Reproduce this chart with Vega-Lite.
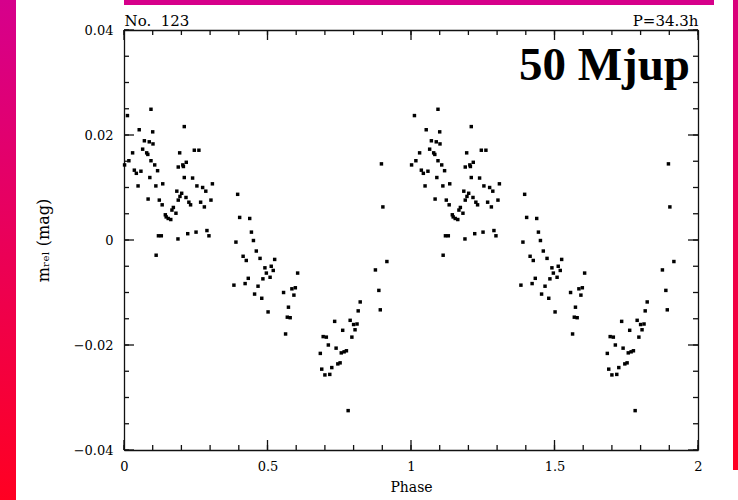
{
  "$schema": "https://vega.github.io/schema/vega-lite/v6.json",
  "background": "white",
  "padding": 0,
  "spacing": 19,
  "config": {
    "view": {"stroke": null},
    "axis": {"grid": false, "domainColor": "#111", "labelColor": "black", "titleColor": "black", "labelFont": "DejaVu Serif", "titleFont": "DejaVu Serif", "labelFontSize": 13, "titleFontWeight": "normal", "labelFlush": false, "domainWidth": 1.3}
  },
  "datasets": {
    "xmin": [{"v":0},{"v":0.1},{"v":0.2},{"v":0.3},{"v":0.4},{"v":0.5},{"v":0.6},{"v":0.7},{"v":0.8},{"v":0.9},{"v":1},{"v":1.1},{"v":1.2},{"v":1.3},{"v":1.4},{"v":1.5},{"v":1.6},{"v":1.7},{"v":1.8},{"v":1.9},{"v":2}],
    "xmaj": [{"v":0},{"v":0.5},{"v":1},{"v":1.5},{"v":2}],
    "ymin": [{"v":-0.04},{"v":-0.035},{"v":-0.03},{"v":-0.025},{"v":-0.02},{"v":-0.015},{"v":-0.01},{"v":-0.005},{"v":0},{"v":0.005},{"v":0.01},{"v":0.015},{"v":0.02},{"v":0.025},{"v":0.03},{"v":0.035},{"v":0.04}],
    "ymaj": [{"v":-0.04},{"v":-0.02},{"v":0},{"v":0.02},{"v":0.04}],
    "pts": [
      {"p":0.012,"m":0.0237},{"p":0.094,"m":0.0249},{"p":0.053,"m":0.021},{"p":0.100,"m":0.0206},{"p":0.210,"m":0.0216},{"p":0.071,"m":0.0189},{"p":0.088,"m":0.0187},{"p":0.101,"m":0.0183},{"p":0.065,"m":0.0173},{"p":0.079,"m":0.0166},{"p":0.083,"m":0.0163},{"p":0.030,"m":0.0166},{"p":0.194,"m":0.0166},{"p":0.245,"m":0.0171},{"p":0.261,"m":0.0171},{"p":0.017,"m":0.0151},{"p":0.002,"m":0.0143},{"p":0.094,"m":0.0151},{"p":0.107,"m":0.0143},{"p":0.036,"m":0.0133},{"p":0.043,"m":0.0127},{"p":0.059,"m":0.0131},{"p":0.117,"m":0.0132},{"p":0.090,"m":0.0119},{"p":0.189,"m":0.0139},{"p":0.205,"m":0.0143},{"p":0.217,"m":0.0148},{"p":0.207,"m":0.0140},{"p":0.210,"m":0.0119},{"p":0.239,"m":0.0118},{"p":0.049,"m":0.0103},{"p":0.111,"m":0.0103},{"p":0.135,"m":0.0107},{"p":0.254,"m":0.0103},{"p":0.274,"m":0.0100},{"p":0.285,"m":0.0093},{"p":0.308,"m":0.0107},{"p":0.184,"m":0.0093},{"p":0.201,"m":0.0089},{"p":0.195,"m":0.0083},{"p":0.189,"m":0.0076},{"p":0.216,"m":0.0081},{"p":0.226,"m":0.0072},{"p":0.232,"m":0.0067},{"p":0.084,"m":0.0078},{"p":0.123,"m":0.0076},{"p":0.133,"m":0.0067},{"p":0.267,"m":0.0072},{"p":0.280,"m":0.0063},{"p":0.303,"m":0.0076},{"p":0.172,"m":0.0062},{"p":0.167,"m":0.0057},{"p":0.181,"m":0.0051},{"p":0.144,"m":0.0048},{"p":0.147,"m":0.0044},{"p":0.154,"m":0.0041},{"p":0.163,"m":0.0039},{"p":0.396,"m":0.0087},{"p":0.403,"m":0.0043},{"p":0.438,"m":0.0041},{"p":0.120,"m":0.0008},{"p":0.130,"m":0.0008},{"p":0.188,"m":0.0002},{"p":0.222,"m":0.0012},{"p":0.251,"m":0.0015},{"p":0.289,"m":0.0018},{"p":0.296,"m":0.0008},{"p":0.444,"m":0.0015},{"p":0.390,"m":-0.0004},{"p":0.451,"m":-0.0001},{"p":0.112,"m":-0.0029},{"p":0.897,"m":0.0145},{"p":0.902,"m":0.0063},{"p":0.461,"m":-0.0021},{"p":0.415,"m":-0.0031},{"p":0.426,"m":-0.0039},{"p":0.474,"m":-0.0035},{"p":0.525,"m":-0.0037},{"p":0.491,"m":-0.0053},{"p":0.513,"m":-0.0050},{"p":0.520,"m":-0.0058},{"p":0.496,"m":-0.0063},{"p":0.509,"m":-0.0071},{"p":0.433,"m":-0.0073},{"p":0.484,"m":-0.0074},{"p":0.605,"m":-0.0063},{"p":0.383,"m":-0.0086},{"p":0.422,"m":-0.0083},{"p":0.467,"m":-0.0088},{"p":0.455,"m":-0.0103},{"p":0.480,"m":-0.0111},{"p":0.556,"m":-0.0100},{"p":0.585,"m":-0.0093},{"p":0.597,"m":-0.0091},{"p":0.592,"m":-0.0105},{"p":0.502,"m":-0.0137},{"p":0.573,"m":-0.0128},{"p":0.569,"m":-0.0147},{"p":0.579,"m":-0.0148},{"p":0.563,"m":-0.0179},{"p":0.916,"m":-0.0041},{"p":0.876,"m":-0.0057},{"p":0.888,"m":-0.0096},{"p":0.823,"m":-0.0118},{"p":0.893,"m":-0.0133},{"p":0.816,"m":-0.0135},{"p":0.734,"m":-0.0155},{"p":0.788,"m":-0.0153},{"p":0.800,"m":-0.0161},{"p":0.812,"m":-0.0160},{"p":0.762,"m":-0.0172},{"p":0.805,"m":-0.0171},{"p":0.694,"m":-0.0184},{"p":0.705,"m":-0.0185},{"p":0.794,"m":-0.0185},{"p":0.712,"m":-0.0200},{"p":0.739,"m":-0.0206},{"p":0.684,"m":-0.0216},{"p":0.757,"m":-0.0215},{"p":0.767,"m":-0.0213},{"p":0.775,"m":-0.0211},{"p":0.745,"m":-0.0236},{"p":0.753,"m":-0.0234},{"p":0.724,"m":-0.0243},{"p":0.689,"m":-0.0246},{"p":0.700,"m":-0.0257},{"p":0.717,"m":-0.0256},{"p":0.781,"m":-0.0325},
      {"p":1.012,"m":0.0237},{"p":1.094,"m":0.0249},{"p":1.053,"m":0.021},{"p":1.100,"m":0.0206},{"p":1.210,"m":0.0216},{"p":1.071,"m":0.0189},{"p":1.088,"m":0.0187},{"p":1.101,"m":0.0183},{"p":1.065,"m":0.0173},{"p":1.079,"m":0.0166},{"p":1.083,"m":0.0163},{"p":1.030,"m":0.0166},{"p":1.194,"m":0.0166},{"p":1.245,"m":0.0171},{"p":1.261,"m":0.0171},{"p":1.017,"m":0.0151},{"p":1.002,"m":0.0143},{"p":1.094,"m":0.0151},{"p":1.107,"m":0.0143},{"p":1.036,"m":0.0133},{"p":1.043,"m":0.0127},{"p":1.059,"m":0.0131},{"p":1.117,"m":0.0132},{"p":1.090,"m":0.0119},{"p":1.189,"m":0.0139},{"p":1.205,"m":0.0143},{"p":1.217,"m":0.0148},{"p":1.207,"m":0.0140},{"p":1.210,"m":0.0119},{"p":1.239,"m":0.0118},{"p":1.049,"m":0.0103},{"p":1.111,"m":0.0103},{"p":1.135,"m":0.0107},{"p":1.254,"m":0.0103},{"p":1.274,"m":0.0100},{"p":1.285,"m":0.0093},{"p":1.308,"m":0.0107},{"p":1.184,"m":0.0093},{"p":1.201,"m":0.0089},{"p":1.195,"m":0.0083},{"p":1.189,"m":0.0076},{"p":1.216,"m":0.0081},{"p":1.226,"m":0.0072},{"p":1.232,"m":0.0067},{"p":1.084,"m":0.0078},{"p":1.123,"m":0.0076},{"p":1.133,"m":0.0067},{"p":1.267,"m":0.0072},{"p":1.280,"m":0.0063},{"p":1.303,"m":0.0076},{"p":1.172,"m":0.0062},{"p":1.167,"m":0.0057},{"p":1.181,"m":0.0051},{"p":1.144,"m":0.0048},{"p":1.147,"m":0.0044},{"p":1.154,"m":0.0041},{"p":1.163,"m":0.0039},{"p":1.396,"m":0.0087},{"p":1.403,"m":0.0043},{"p":1.438,"m":0.0041},{"p":1.120,"m":0.0008},{"p":1.130,"m":0.0008},{"p":1.188,"m":0.0002},{"p":1.222,"m":0.0012},{"p":1.251,"m":0.0015},{"p":1.289,"m":0.0018},{"p":1.296,"m":0.0008},{"p":1.444,"m":0.0015},{"p":1.390,"m":-0.0004},{"p":1.451,"m":-0.0001},{"p":1.112,"m":-0.0029},{"p":1.897,"m":0.0145},{"p":1.902,"m":0.0063},{"p":1.461,"m":-0.0021},{"p":1.415,"m":-0.0031},{"p":1.426,"m":-0.0039},{"p":1.474,"m":-0.0035},{"p":1.525,"m":-0.0037},{"p":1.491,"m":-0.0053},{"p":1.513,"m":-0.0050},{"p":1.520,"m":-0.0058},{"p":1.496,"m":-0.0063},{"p":1.509,"m":-0.0071},{"p":1.433,"m":-0.0073},{"p":1.484,"m":-0.0074},{"p":1.605,"m":-0.0063},{"p":1.383,"m":-0.0086},{"p":1.422,"m":-0.0083},{"p":1.467,"m":-0.0088},{"p":1.455,"m":-0.0103},{"p":1.480,"m":-0.0111},{"p":1.556,"m":-0.0100},{"p":1.585,"m":-0.0093},{"p":1.597,"m":-0.0091},{"p":1.592,"m":-0.0105},{"p":1.502,"m":-0.0137},{"p":1.573,"m":-0.0128},{"p":1.569,"m":-0.0147},{"p":1.579,"m":-0.0148},{"p":1.563,"m":-0.0179},{"p":1.916,"m":-0.0041},{"p":1.876,"m":-0.0057},{"p":1.888,"m":-0.0096},{"p":1.823,"m":-0.0118},{"p":1.893,"m":-0.0133},{"p":1.816,"m":-0.0135},{"p":1.734,"m":-0.0155},{"p":1.788,"m":-0.0153},{"p":1.800,"m":-0.0161},{"p":1.812,"m":-0.0160},{"p":1.762,"m":-0.0172},{"p":1.805,"m":-0.0171},{"p":1.694,"m":-0.0184},{"p":1.705,"m":-0.0185},{"p":1.794,"m":-0.0185},{"p":1.712,"m":-0.0200},{"p":1.739,"m":-0.0206},{"p":1.684,"m":-0.0216},{"p":1.757,"m":-0.0215},{"p":1.767,"m":-0.0213},{"p":1.775,"m":-0.0211},{"p":1.745,"m":-0.0236},{"p":1.753,"m":-0.0234},{"p":1.724,"m":-0.0243},{"p":1.689,"m":-0.0246},{"p":1.700,"m":-0.0257},{"p":1.717,"m":-0.0256},{"p":1.781,"m":-0.0325}
    ]
  },
  "hconcat": [
    {
      "width": 16, "height": 500,
      "data": {"values": [{}]},
      "mark": {"type": "rect", "strokeWidth": 0, "fill": {"gradient": "linear", "x1": 0, "y1": 0, "x2": 0, "y2": 1, "stops": [{"offset": 0, "color": "#d6008c"}, {"offset": 1, "color": "#ff0022"}]}},
      "encoding": {}
    },
    {
      "spacing": 8,
      "vconcat": [
        {
          "width": 590, "height": 5,
          "data": {"values": [{}]},
          "mark": {"type": "rect", "strokeWidth": 0, "fill": "#d6008a"},
          "encoding": {}
        },
        {
          "width": 574, "height": 420,
          "data": {"name": "pts"},
          "resolve": {"axis": {"x": "independent", "y": "independent"}},
          "layer": [
            {
              "mark": {"type": "square", "size": 12, "color": "black", "opacity": 1},
              "encoding": {
                "x": {"field": "p", "type": "quantitative", "scale": {"domain": [0, 2], "nice": false, "zero": false},
                  "axis": {"orient": "bottom", "values": [0, 0.5, 1, 1.5, 2], "format": "~g", "ticks": false, "tickSize": 0, "labelPadding": 10, "title": "Phase", "titleFontSize": 14, "titlePadding": 7}},
                "y": {"field": "m", "type": "quantitative", "scale": {"domain": [-0.04, 0.04], "nice": false, "zero": false},
                  "axis": {"orient": "left", "values": [-0.04, -0.02, 0, 0.02, 0.04], "format": "~g", "ticks": false, "tickSize": 0, "labelPadding": 11, "title": "mᵣₑₗ (mag)", "titleFontSize": 16, "titlePadding": 22}}
              }
            },
            {
              "mark": {"type": "square", "size": 12, "opacity": 0},
              "encoding": {
                "x": {"field": "p", "type": "quantitative", "axis": {"orient": "top", "ticks": false, "tickSize": 0, "labels": false, "title": "No.\u00a0\u00a0123", "titleFontSize": 15, "titleAnchor": "start", "titleAlign": "left", "titlePadding": 2}},
                "y": {"field": "m", "type": "quantitative", "axis": {"orient": "right", "ticks": false, "tickSize": 0, "labels": false, "title": null}}
              }
            },
            {
              "mark": {"type": "square", "size": 12, "opacity": 0},
              "encoding": {
                "x": {"field": "p", "type": "quantitative", "axis": {"orient": "top", "ticks": false, "tickSize": 0, "labels": false, "domain": false, "title": "P=34.3h", "titleFontSize": 15, "titleAnchor": "end", "titleAlign": "right", "titlePadding": 2}},
                "y": {"field": "m", "type": "quantitative", "axis": null}
              }
            },
            {
              "data": {"name": "xmin"},
              "mark": {"type": "rule", "color": "#111", "strokeWidth": 1.3},
              "encoding": {"x": {"field": "v", "type": "quantitative", "axis": null}, "y": {"datum": -0.04, "type": "quantitative", "axis": null}, "y2": {"datum": -0.03905}}
            },
            {
              "data": {"name": "xmin"},
              "mark": {"type": "rule", "color": "#111", "strokeWidth": 1.3},
              "encoding": {"x": {"field": "v", "type": "quantitative", "axis": null}, "y": {"datum": 0.04, "type": "quantitative", "axis": null}, "y2": {"datum": 0.03905}}
            },
            {
              "data": {"name": "xmaj"},
              "mark": {"type": "rule", "color": "#111", "strokeWidth": 1.3},
              "encoding": {"x": {"field": "v", "type": "quantitative", "axis": null}, "y": {"datum": -0.04, "type": "quantitative", "axis": null}, "y2": {"datum": -0.0381}}
            },
            {
              "data": {"name": "xmaj"},
              "mark": {"type": "rule", "color": "#111", "strokeWidth": 1.3},
              "encoding": {"x": {"field": "v", "type": "quantitative", "axis": null}, "y": {"datum": 0.04, "type": "quantitative", "axis": null}, "y2": {"datum": 0.0381}}
            },
            {
              "data": {"name": "ymin"},
              "mark": {"type": "rule", "color": "#111", "strokeWidth": 1.3},
              "encoding": {"y": {"field": "v", "type": "quantitative", "axis": null}, "x": {"datum": 0, "type": "quantitative", "axis": null}, "x2": {"datum": 0.0174}}
            },
            {
              "data": {"name": "ymin"},
              "mark": {"type": "rule", "color": "#111", "strokeWidth": 1.3},
              "encoding": {"y": {"field": "v", "type": "quantitative", "axis": null}, "x": {"datum": 2, "type": "quantitative", "axis": null}, "x2": {"datum": 1.9826}}
            },
            {
              "data": {"name": "ymaj"},
              "mark": {"type": "rule", "color": "#111", "strokeWidth": 1.3},
              "encoding": {"y": {"field": "v", "type": "quantitative", "axis": null}, "x": {"datum": 0, "type": "quantitative", "axis": null}, "x2": {"datum": 0.0348}}
            },
            {
              "data": {"name": "ymaj"},
              "mark": {"type": "rule", "color": "#111", "strokeWidth": 1.3},
              "encoding": {"y": {"field": "v", "type": "quantitative", "axis": null}, "x": {"datum": 2, "type": "quantitative", "axis": null}, "x2": {"datum": 1.9652}}
            },
            {
              "data": {"values": [{}]},
              "mark": {"type": "text", "text": "50 Mjup", "font": "Liberation Serif", "fontSize": 47, "fontWeight": "bold", "align": "right", "baseline": "alphabetic", "color": "black"},
              "encoding": {
                "x": {"datum": 1.972, "type": "quantitative", "axis": null},
                "y": {"datum": 0.0305, "type": "quantitative", "axis": null}
              }
            }
          ]
        }
      ]
    },
    {
      "width": 5, "height": 470,
      "data": {"values": [{}]},
      "mark": {"type": "rect", "strokeWidth": 0, "fill": {"gradient": "linear", "x1": 0, "y1": 0, "x2": 0, "y2": 1, "stops": [{"offset": 0, "color": "#d9007c"}, {"offset": 1, "color": "#ff0022"}]}},
      "encoding": {}
    }
  ]
}
